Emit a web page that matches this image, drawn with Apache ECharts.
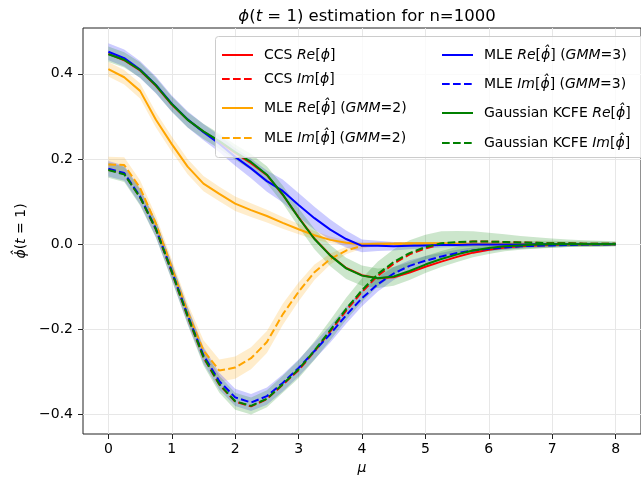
<!DOCTYPE html>
<html>
<head>
<meta charset="utf-8">
<script src="https://cdn.jsdelivr.net/npm/echarts@6/dist/echarts.min.js"></script>
<style>
  html, body { margin: 0; padding: 0; background: #fff; }
  #main { width: 641px; height: 481px; }
</style>
</head>
<body>
<div id="main"></div>
<script>
// mu grid
const xs = [0, 0.25, 0.5, 0.75, 1, 1.25, 1.5, 1.75, 2, 2.25, 2.5, 2.75, 3, 3.25, 3.5, 3.75, 4,
  4.25, 4.5, 4.75, 5, 5.25, 5.5, 5.75, 6, 6.25, 6.5, 6.75, 7, 7.25, 7.5, 7.75, 8];

const ccsRe = [0.447, 0.432, 0.408, 0.372, 0.328, 0.292, 0.264, 0.240, 0.214, 0.190, 0.162, 0.116, 0.063, 0.013, -0.026, -0.056, -0.073,
  -0.080, -0.078, -0.067, -0.053, -0.041, -0.030, -0.020, -0.013, -0.008, -0.005, -0.003, -0.002, -0.001, -0.001, 0, 0];
const ccsIm = [0.175, 0.165, 0.110, 0.034, -0.066, -0.170, -0.266, -0.330, -0.370, -0.381, -0.364, -0.330, -0.296, -0.252, -0.205, -0.156, -0.112,
  -0.074, -0.046, -0.024, -0.010, 0.000, 0.004, 0.006, 0.006, 0.005, 0.004, 0.003, 0.002, 0.002, 0.001, 0.001, 0.001];
const mle2Re = [0.411, 0.392, 0.360, 0.292, 0.235, 0.182, 0.142, 0.118, 0.095, 0.080, 0.066, 0.050, 0.035, 0.021, 0.010, 0.003, 0.000,
  0.001, 0.001, 0.002, 0.002, 0.002, 0.001, 0.001, 0.001, 0.001, 0.001, 0, 0, 0, 0, 0, 0];
const mle2Im = [0.187, 0.186, 0.132, 0.048, -0.055, -0.160, -0.250, -0.297, -0.290, -0.268, -0.230, -0.165, -0.112, -0.066, -0.035, -0.015, -0.004,
  0.000, 0.001, 0.001, 0.001, 0.001, 0.001, 0, 0, 0, 0, 0, 0, 0, 0, 0, 0];
const mle3Re = [0.452, 0.437, 0.410, 0.374, 0.330, 0.293, 0.263, 0.236, 0.205, 0.178, 0.148, 0.125, 0.092, 0.061, 0.034, 0.012, -0.004,
  -0.004, -0.005, -0.004, -0.003, -0.002, -0.002, -0.001, -0.001, -0.001, -0.001, 0, 0, 0, 0, 0, 0];
const mle3Im = [0.177, 0.167, 0.112, 0.036, -0.063, -0.167, -0.261, -0.322, -0.360, -0.372, -0.357, -0.326, -0.291, -0.251, -0.211, -0.167, -0.127,
  -0.094, -0.069, -0.051, -0.039, -0.029, -0.021, -0.015, -0.011, -0.008, -0.005, -0.004, -0.003, -0.002, -0.001, -0.001, 0];
const kcfeRe = [0.446, 0.433, 0.409, 0.373, 0.329, 0.292, 0.265, 0.242, 0.216, 0.193, 0.163, 0.117, 0.062, 0.012, -0.027, -0.057, -0.074,
  -0.080, -0.076, -0.063, -0.048, -0.035, -0.024, -0.015, -0.009, -0.005, -0.003, -0.001, 0, 0, 0, 0, 0];
const kcfeIm = [0.174, 0.164, 0.110, 0.035, -0.065, -0.169, -0.265, -0.329, -0.369, -0.380, -0.363, -0.329, -0.294, -0.250, -0.202, -0.152, -0.108,
  -0.070, -0.042, -0.021, -0.007, 0.002, 0.005, 0.006, 0.006, 0.005, 0.004, 0.003, 0.002, 0.002, 0.001, 0.001, 0.001];

// half widths of the shaded bands
const mle2ReBand = [0.017, 0.017, 0.018, 0.018, 0.018, 0.018, 0.018, 0.017, 0.017, 0.016, 0.015, 0.014, 0.012, 0.010, 0.008, 0.006, 0.005,
  0.004, 0.004, 0.003, 0.003, 0.003, 0.003, 0.002, 0.002, 0.002, 0.002, 0.002, 0.002, 0.002, 0.002, 0.002, 0.002];
const mle2ImBand = [0.018, 0.018, 0.018, 0.018, 0.019, 0.021, 0.024, 0.026, 0.026, 0.026, 0.026, 0.025, 0.022, 0.018, 0.013, 0.009, 0.006,
  0.004, 0.003, 0.003, 0.003, 0.002, 0.002, 0.002, 0.002, 0.002, 0.002, 0.002, 0.002, 0.002, 0.002, 0.002, 0.002];
const mle3ReBand = [0.020, 0.020, 0.020, 0.020, 0.019, 0.019, 0.019, 0.020, 0.021, 0.023, 0.025, 0.027, 0.028, 0.027, 0.024, 0.020, 0.015,
  0.012, 0.010, 0.008, 0.007, 0.006, 0.005, 0.005, 0.004, 0.004, 0.004, 0.003, 0.003, 0.003, 0.003, 0.003, 0.003];
const mle3ImBand = [0.018, 0.018, 0.019, 0.020, 0.020, 0.020, 0.020, 0.020, 0.020, 0.020, 0.020, 0.020, 0.020, 0.020, 0.020, 0.020, 0.019,
  0.017, 0.015, 0.013, 0.011, 0.009, 0.008, 0.007, 0.006, 0.005, 0.005, 0.004, 0.004, 0.004, 0.003, 0.003, 0.003];
const kcfeReBand = [0.018, 0.018, 0.018, 0.018, 0.018, 0.018, 0.018, 0.018, 0.018, 0.019, 0.020, 0.021, 0.022, 0.024, 0.025, 0.025, 0.024,
  0.023, 0.022, 0.021, 0.020, 0.019, 0.018, 0.016, 0.014, 0.012, 0.010, 0.009, 0.008, 0.007, 0.006, 0.006, 0.005];
const kcfeImBand = [0.018, 0.018, 0.019, 0.020, 0.020, 0.020, 0.020, 0.020, 0.020, 0.020, 0.020, 0.020, 0.021, 0.022, 0.024, 0.026, 0.028,
  0.029, 0.030, 0.030, 0.029, 0.028, 0.026, 0.024, 0.021, 0.018, 0.015, 0.013, 0.011, 0.009, 0.008, 0.007, 0.006];

const xTicks = [0, 1, 2, 3, 4, 5, 6, 7, 8];
const yTicks = [-0.4, -0.2, 0, 0.2, 0.4];

const names = ['CCS Re', 'CCS Im', 'MLE Re 2', 'MLE Im 2', 'MLE Re 3', 'MLE Im 3', 'KCFE Re', 'KCFE Im'];
const legendText = {
  'CCS Re': 'CCS {i|Re}[{i|ϕ}]',
  'CCS Im': 'CCS {i|Im}[{i|ϕ}]',
  'MLE Re 2': 'MLE {i|Re}[{i|ϕ̂}] ({i|GMM}=2)',
  'MLE Im 2': 'MLE {i|Im}[{i|ϕ̂}] ({i|GMM}=2)',
  'MLE Re 3': 'MLE {i|Re}[{i|ϕ̂}] ({i|GMM}=3)',
  'MLE Im 3': 'MLE {i|Im}[{i|ϕ̂}] ({i|GMM}=3)',
  'KCFE Re': 'Gaussian KCFE {i|Re}[{i|ϕ̂}]',
  'KCFE Im': 'Gaussian KCFE {i|Im}[{i|ϕ̂}]'
};

const FONT = 'DejaVu Sans';
const rich = { i: { fontStyle: 'italic', fontFamily: FONT, fontSize: 14, color: '#000' } };
const dash = [7.7, 3.3];

function pairs(ys) {
  return xs.map((x, i) => [x, ys[i]]);
}

function lineSeries(name, ys, color, dashed) {
  return {
    type: 'line', name: name, data: pairs(ys), symbol: 'none', z: 3,
    lineStyle: { color: color, width: 2, type: dashed ? dash : 'solid' },
    itemStyle: { color: color }
  };
}

function bandSeries(ys, band, color) {
  return {
    type: 'custom', silent: true, z: 1, clip: true,
    data: xs.map((x, i) => [x, ys[i] - band[i], ys[i] + band[i]]),
    encode: { x: 0, y: [1, 2] },
    renderItem: function (params, api) {
      if (params.dataIndex !== 0) return null;
      const up = [], dn = [];
      for (let i = 0; i < xs.length; i++) {
        up.push(api.coord([xs[i], ys[i] + band[i]]));
        dn.unshift(api.coord([xs[i], ys[i] - band[i]]));
      }
      return { type: 'polygon', shape: { points: up.concat(dn) }, style: { fill: color } };
    }
  };
}

// legend rows: [name, left, top]
const legendPos = [
  ['CCS Re', 221, 48], ['CCS Im', 221, 72], ['MLE Re 2', 221, 101], ['MLE Im 2', 221, 131],
  ['MLE Re 3', 441, 48], ['MLE Im 3', 441, 77], ['KCFE Re', 441, 106], ['KCFE Im', 441, 136]
];

const chart = echarts.init(document.getElementById('main'));

const option = {
  animation: false,
  textStyle: { fontFamily: FONT },
  title: {
    text: '{i|ϕ}({i|t} = 1) estimation for n=1000',
    left: 367, top: 8, padding: 0, textAlign: 'center',
    textStyle: {
      fontFamily: FONT, fontSize: 16.5, fontWeight: 'normal', color: '#000',
      rich: { i: { fontStyle: 'italic', fontFamily: FONT, fontSize: 16.5, color: '#000' } }
    }
  },
  grid: {
    left: 83, top: 28, right: -11, bottom: 47,
    show: true, borderColor: '#222', borderWidth: 1, backgroundColor: 'transparent'
  },
  xAxis: {
    type: 'value', min: -0.4, max: 8.4,
    name: 'μ', nameLocation: 'middle', nameGap: 25,
    nameTextStyle: { fontFamily: FONT, fontSize: 14, fontStyle: 'italic', color: '#000' },
    axisLine: { show: false, onZero: false },
    axisTick: { show: true, length: 5, lineStyle: { color: '#222' }, customValues: xTicks },
    axisLabel: { customValues: xTicks, margin: 8, fontSize: 14, color: '#000', fontFamily: FONT },
    splitLine: { show: true, lineStyle: { color: '#e7e7e7', width: 1 } }
  },
  yAxis: {
    type: 'value', min: -0.446, max: 0.5077,
    name: '{i|ϕ̂}({i|t} = 1)', nameLocation: 'middle', nameGap: 55,
    nameTextStyle: { fontFamily: FONT, fontSize: 14, color: '#000', rich: rich },
    axisLine: { show: false, onZero: false },
    axisTick: { show: true, length: 5, lineStyle: { color: '#222' }, customValues: yTicks },
    axisLabel: {
      customValues: yTicks, margin: 10, fontSize: 14, color: '#000', fontFamily: FONT,
      formatter: v => v.toFixed(1).replace('-', '\u2212')
    },
    splitLine: { show: true, lineStyle: { color: '#e7e7e7', width: 1 } }
  },
  legend: legendPos.map(p => ({
    data: [p[0]], left: p[1], top: p[2], padding: 0, selectedMode: false,
    itemWidth: 31, itemHeight: 14, z: 5,
    itemStyle: { opacity: 0 },
    formatter: n => legendText[n],
    textStyle: { fontFamily: FONT, fontSize: 14, color: '#000', padding: [0, 0, 0, 6], rich: rich }
  })),
  graphic: [{
    type: 'rect', z: 4, silent: true,
    shape: { x: 215.5, y: 36.5, width: 500, height: 121, r: 3 },
    style: { fill: 'rgba(255,255,255,0.8)', stroke: '#cccccc', lineWidth: 1 }
  }],
  series: [
    bandSeries(mle2Re, mle2ReBand, 'rgba(255,165,0,0.2)'),
    bandSeries(mle2Im, mle2ImBand, 'rgba(255,165,0,0.2)'),
    bandSeries(mle3Re, mle3ReBand, 'rgba(0,0,255,0.2)'),
    bandSeries(mle3Im, mle3ImBand, 'rgba(0,0,255,0.2)'),
    bandSeries(kcfeRe, kcfeReBand, 'rgba(0,128,0,0.2)'),
    bandSeries(kcfeIm, kcfeImBand, 'rgba(0,128,0,0.2)'),
    lineSeries(names[0], ccsRe, '#ff0000', false),
    lineSeries(names[1], ccsIm, '#ff0000', true),
    lineSeries(names[2], mle2Re, '#ffa500', false),
    lineSeries(names[3], mle2Im, '#ffa500', true),
    lineSeries(names[4], mle3Re, '#0000ff', false),
    lineSeries(names[5], mle3Im, '#0000ff', true),
    lineSeries(names[6], kcfeRe, '#008000', false),
    lineSeries(names[7], kcfeIm, '#008000', true)
  ]
};

chart.setOption(option);
</script>
</body>
</html>
